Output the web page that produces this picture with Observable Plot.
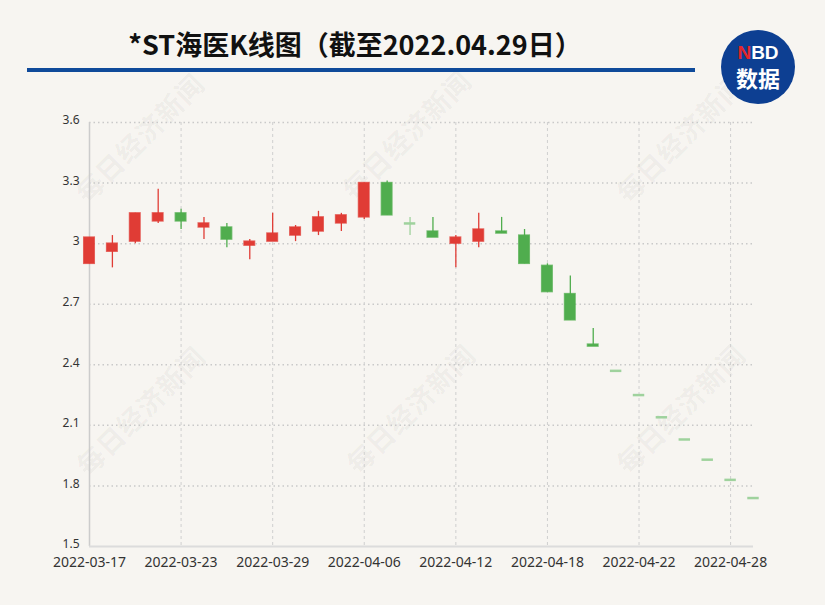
<!DOCTYPE html>
<html>
<head>
<meta charset="utf-8">
<script src="https://cdn.jsdelivr.net/npm/d3@7"></script>
<script src="https://cdn.jsdelivr.net/npm/@observablehq/plot@0.6"></script>
<style>
  html, body { margin: 0; padding: 0; background: #f7f5f1; }
  #wrap { position: relative; width: 825px; height: 605px; overflow: hidden; background: #f7f5f1; }
  .wm { position: absolute; font: bold 27px "Noto Sans CJK SC", sans-serif; color: rgba(0,0,0,0.05);
        transform: translate(-50%, -50%) rotate(-45deg); white-space: nowrap; letter-spacing: 1px; }
  #title { position: absolute; left: 0; width: 710px; top: 25px; text-align: center;
           font: bold 27px "Noto Sans CJK SC", sans-serif; color: #111; line-height: 38px; }
  #bar { position: absolute; left: 27px; top: 68px; width: 668px; height: 4px; background: #0f4a9a; }
  #logo { position: absolute; left: 721px; top: 30px; width: 74px; height: 74px; border-radius: 50%;
          background: #0d3f92; color: #fff; text-align: center; font-family: "Noto Sans CJK SC", sans-serif; font-weight: bold; }
  #logo .a { position: absolute; left: 0; width: 74px; top: 12px; font-size: 19px; line-height: 22px; font-family: "Liberation Sans", Arial, sans-serif; font-weight: bold; }
  #logo .a span { color: #e3262b; }
  #logo .b { position: absolute; left: 0; width: 74px; top: 33px; font-size: 22px; line-height: 28px; }
  #chart { position: absolute; left: 0; top: 0; }
  #chart [aria-label^="x-axis"] text { font-size: 14px; }
</style>
</head>
<body>
<div id="wrap">
  <div class="wm" style="left:139px;top:137px">每日经济新闻</div>
  <div class="wm" style="left:406px;top:134px">每日经济新闻</div>
  <div class="wm" style="left:680px;top:137px">每日经济新闻</div>
  <div class="wm" style="left:140px;top:410px">每日经济新闻</div>
  <div class="wm" style="left:410px;top:408px">每日经济新闻</div>
  <div class="wm" style="left:680px;top:408px">每日经济新闻</div>
  <div id="title">*ST海医K线图（截至2022.04.29日）</div>
  <div id="bar"></div>
  <div id="logo"><div class="a"><span>N</span>BD</div><div class="b">数据</div></div>
  <div id="chart"></div>
</div>
<script>
const dates = ["2022-03-17","2022-03-18","2022-03-21","2022-03-22","2022-03-23","2022-03-24","2022-03-25",
  "2022-03-28","2022-03-29","2022-03-30","2022-03-31","2022-04-01","2022-04-06","2022-04-07","2022-04-08",
  "2022-04-11","2022-04-12","2022-04-13","2022-04-14","2022-04-15","2022-04-18","2022-04-19","2022-04-20",
  "2022-04-21","2022-04-22","2022-04-25","2022-04-26","2022-04-27","2022-04-28","2022-04-29"];
const openP  = [2.90,2.96,3.01,3.11,3.15,3.08,3.08,2.99,3.01,3.04,3.06,3.10,3.13,3.30,3.10,3.06,3.00,3.01,3.06,3.04,2.89,2.75,2.50,2.37,2.25,2.14,2.03,1.93,1.83,1.74];
const closeP = [3.03,3.00,3.15,3.15,3.11,3.10,3.02,3.01,3.05,3.08,3.13,3.14,3.30,3.14,3.10,3.03,3.03,3.07,3.05,2.90,2.76,2.62,2.49,2.37,2.25,2.14,2.03,1.93,1.83,1.74];
const highP  = [3.03,3.04,3.15,3.27,3.17,3.13,3.10,3.02,3.15,3.09,3.16,3.15,3.30,3.31,3.13,3.13,3.04,3.15,3.13,3.07,2.90,2.84,2.58,2.37,2.25,2.14,2.03,1.93,1.83,1.74];
const lowP   = [2.90,2.88,3.00,3.10,3.07,3.02,2.98,2.92,3.01,3.01,3.04,3.06,3.12,3.14,3.04,3.03,2.88,2.98,3.05,2.90,2.76,2.62,2.49,2.37,2.25,2.14,2.03,1.93,1.83,1.74];
const yTicks = [1.5,1.8,2.1,2.4,2.7,3.0,3.3,3.6];
const xTickDates = ["2022-03-17","2022-03-23","2022-03-29","2022-04-06","2022-04-12","2022-04-18","2022-04-22","2022-04-28"];

const RED = "#e03c35", GREEN = "#50ad4e", LRED = "#f0a09c", LGREEN = "#9fd29d";
const data = dates.map((d, i) => ({
  i, date: d, open: openP[i], close: closeP[i], high: highP[i], low: lowP[i],
  prev: i ? closeP[i - 1] : openP[i]
}));
const col = d => d.close > d.open ? RED : d.close < d.open ? GREEN : (d.close >= d.prev ? LRED : LGREEN);
const bodies = data.filter(d => d.open !== d.close);
const dojis = data.filter(d => d.open === d.close);
const xTickIdx = xTickDates.map(s => dates.indexOf(s));

const chart = Plot.plot({
  width: 825, height: 605,
  marginTop: 122, marginBottom: 59, marginLeft: 89, marginRight: 72,
  style: { background: "transparent", fontFamily: "'Noto Sans', sans-serif", fontSize: "13px", color: "#333", overflow: "visible" },
  x: { type: "linear", domain: [0, dates.length - 1], ticks: xTickIdx, tickFormat: i => dates[i], tickSize: 0, tickPadding: 11, label: null },
  y: { domain: [1.5, 3.6], axis: null },
  color: { type: "identity" },
  marks: [
    Plot.ruleY(yTicks.slice(1), { stroke: "#c9c9c9", strokeWidth: 1.5, strokeDasharray: "1.5,3" }),
    Plot.ruleX(xTickIdx.slice(1), { stroke: "#cfcfcf", strokeWidth: 1, strokeDasharray: "3,3" }),
    Plot.ruleX([0], { stroke: "#cccccc", strokeWidth: 1.5 }),
    Plot.ruleY([1.5], { stroke: "#dcdcdc", strokeWidth: 2 }),
    Plot.text(yTicks, { x: () => 0, y: d => d, text: d => String(+d.toFixed(1)), textAnchor: "end",
                        dx: -10, dy: -2, fontSize: 12, fill: "#333" }),
    Plot.ruleX(data, { x: "i", y1: "low", y2: "high", stroke: col, strokeWidth: 1.3 }),
    Plot.rect(bodies, { x1: d => d.i - 0.23, x2: d => d.i + 0.23, y1: "open", y2: "close",
                        fill: col, stroke: col, strokeWidth: 1.5, strokeOpacity: 0.75 }),
    Plot.ruleY(dojis, { y: "close", x1: d => d.i - 0.25, x2: d => d.i + 0.25, stroke: col, strokeWidth: 2.5 })
  ]
});
document.getElementById("chart").appendChild(chart);
</script>
</body>
</html>
